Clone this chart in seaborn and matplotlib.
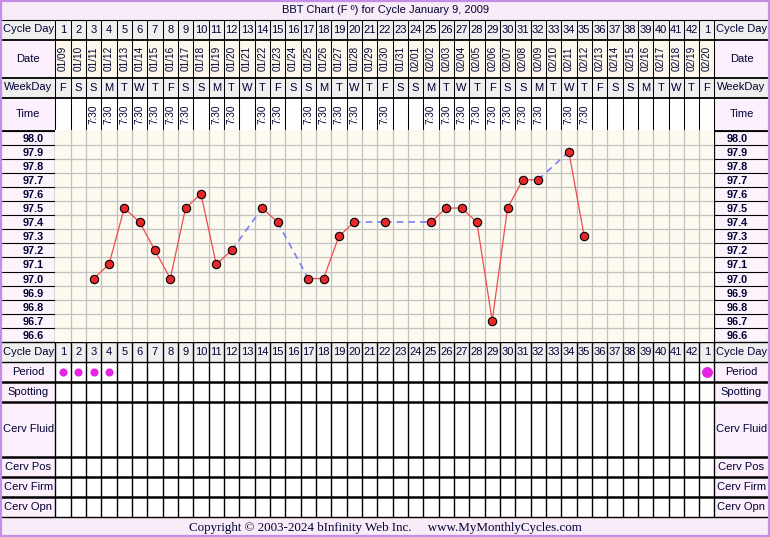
import numpy as np
import pandas as pd
import seaborn as sns
import matplotlib.pyplot as plt
from matplotlib.patches import Rectangle

# chart data
title = 'BBT Chart (F º) for Cycle January 9, 2009'
cycle_days = ['1', '2', '3', '4', '5', '6', '7', '8', '9', '10', '11', '12', '13', '14',
              '15', '16', '17', '18', '19', '20', '21', '22', '23', '24', '25', '26', '27',
              '28', '29', '30', '31', '32', '33', '34', '35', '36', '37', '38', '39', '40',
              '41', '42', '1']
dates = ['01/09', '01/10', '01/11', '01/12', '01/13', '01/14', '01/15', '01/16', '01/17',
         '01/18', '01/19', '01/20', '01/21', '01/22', '01/23', '01/24', '01/25', '01/26',
         '01/27', '01/28', '01/29', '01/30', '01/31', '02/01', '02/02', '02/03', '02/04',
         '02/05', '02/06', '02/07', '02/08', '02/09', '02/10', '02/11', '02/12', '02/13',
         '02/14', '02/15', '02/16', '02/17', '02/18', '02/19', '02/20']
weekdays = list('FSSMTWTFSSMTWTFSSMTWTFSSMTWTFSSMTWTFSSMTWTF')
time_days = [3, 4, 5, 6, 7, 8, 9, 11, 12, 14, 15, 17, 18, 19, 20, 22, 25, 26, 27, 28,
             29, 30, 31, 32, 34, 35]
read_days = [3, 4, 5, 6, 7, 8, 9, 10, 11, 12, 14, 15, 17, 18, 19, 20, 22, 25, 26, 27, 28,
             29, 30, 31, 32, 34, 35]
read_temps = [97.0, 97.1, 97.5, 97.4, 97.2, 97.0, 97.5, 97.6, 97.1, 97.2, 97.5, 97.4,
              97.0, 97.0, 97.3, 97.4, 97.4, 97.4, 97.5, 97.5, 97.4, 96.7, 97.5, 97.7,
              97.7, 97.9, 97.3]
temp_ticks = [98.0, 97.9, 97.8, 97.7, 97.6, 97.5, 97.4, 97.3, 97.2, 97.1, 97.0, 96.9,
              96.8, 96.7, 96.6]
period_days = [1, 2, 3, 4]
next_period_days = [43]
lower_rows = ['Period', 'Spotting', 'Cerv Fluid', 'Cerv Pos', 'Cerv Firm', 'Cerv Opn']
footer = 'Copyright © 2003-2024 bInfinity Web Inc.     www.MyMonthlyCycles.com'

sns.set_theme(style='white')
plt.rcParams['font.family'] = ['Liberation Sans', 'DejaVu Sans']

W, H = 770, 537
TXT = '#000033'
GRAY = '#efefef'
PINK = '#fcf0fc'
CREAM = '#fcf8ec'
GRIDBG = '#fdfaf0'
BORDER = '#c48ee6'

fig = plt.figure(figsize=(7.7, 5.37), dpi=100)
bg = fig.add_axes([0, 0, 1, 1])
bg.set_xlim(0, W)
bg.set_ylim(H, 0)
bg.axis('off')

X0, CW, NCOL = 55.3, 15.33, 43
X1 = X0 + NCOL * CW
XL, XR = 1.5, 768.5
T0, T1 = 130.5, 342.0
RH = (T1 - T0) / len(temp_ticks)


def col_x(i):
    return X0 + (i - 0.5) * CW


def cell(x, y, w, h, fc):
    bg.add_patch(Rectangle((x, y), w, h, facecolor=fc, edgecolor='none', zorder=0))


# title and footer bands
cell(0, 0, W, 19.5, '#f8ecf8')
cell(0, 517, W, 20, '#f8ecf8')
bg.text(W / 2, 10, title, ha='center', va='center', fontsize=8, color=TXT)
bg.text(W / 2 + 0.5, 527.5, footer, ha='center', va='center', fontsize=9.35, color=TXT,
        family=['Liberation Serif', 'DejaVu Serif'])

# header rows: (label, top, bottom, label bg, cell bg)
header = [('Cycle Day', 19.5, 39.5, GRAY, GRAY),
          ('Date', 39.5, 77.5, PINK, CREAM),
          ('WeekDay', 77.5, 97.5, GRAY, GRAY),
          ('Time', 97.5, 130.5, PINK, 'white')]
lower = [('Cycle Day', 342, 362, GRAY, GRAY)]
tops = [362, 382, 402, 457, 477, 497]
bots = [382, 402, 457, 477, 497, 517]
for name, t, b in zip(lower_rows, tops, bots):
    lower.append((name, t, b, PINK, 'white'))

for name, t, b, lbg, cbg in header + lower:
    cell(XL, t, X0 - XL, b - t, lbg)
    cell(X1, t, XR - X1, b - t, lbg)
    cell(X0, t, X1 - X0, b - t, cbg)
    bg.text((XL + X0) / 2, (t + b) / 2, name, ha='center', va='center', fontsize=8, color=TXT)
    bg.text((X1 + XR) / 2, (t + b) / 2, name, ha='center', va='center', fontsize=8, color=TXT)

for i in range(1, NCOL + 1):
    x = col_x(i)
    bg.text(x, 29.8, cycle_days[i - 1], ha='center', va='center', fontsize=8, color=TXT)
    bg.text(x, 352.3, cycle_days[i - 1], ha='center', va='center', fontsize=8, color=TXT)
    bg.text(x, 58.5, dates[i - 1], ha='center', va='center', rotation=90, fontsize=7.2,
            color=TXT)
    bg.text(x, 87.8, weekdays[i - 1], ha='center', va='center', fontsize=8, color=TXT)
for d in time_days:
    bg.text(col_x(d), 114, '7:30', ha='center', va='center', rotation=90, fontsize=7.2,
            color=TXT)

# temperature label columns
for k in range(len(temp_ticks)):
    y = T0 + k * RH
    cell(XL, y, X0 - XL, RH, '#fcf3fc')
    cell(X1, y, XR - X1, RH, '#fcf3fc')
    bg.plot([XL, X0], [y, y], color='black', lw=0.8, zorder=2)
    bg.plot([X1, XR], [y, y], color='black', lw=0.8, zorder=2)

# table lines
for i in range(NCOL + 1):
    x = X0 + i * CW
    bg.plot([x, x], [19.5, T0], color='black', lw=0.75, zorder=2)
    bg.plot([x, x], [T1, 517], color='black', lw=1.0, zorder=2)
for y, lw in [(19.5, 0.8), (39.5, 1.3), (77.5, 1.3), (97.5, 1.3), (T0, 1.3),
              (T1, 1.0), (362, 1.0), (382, 1.8), (402, 1.8), (457, 1.8), (477, 1.8),
              (497, 1.8), (517, 1.0)]:
    bg.plot([XL, XR], [y, y], color='black', lw=lw, zorder=2)
bg.plot([X0, X0], [T0, T1], color='black', lw=0.9, zorder=2)
bg.plot([X1, X1], [T0, T1], color='black', lw=0.9, zorder=2)
bg.add_patch(Rectangle((0.8, 0.8), W - 1.6, H - 1.6, facecolor='none', edgecolor=BORDER,
                       lw=1.6, zorder=5))

# temperature plot
ax = fig.add_axes([X0 / W, 1 - T1 / H, (X1 - X0) / W, (T1 - T0) / H])
ax.set_facecolor(GRIDBG)

df = pd.DataFrame({'day': read_days, 'temp': read_temps})
df['run'] = (df['day'].diff() != 1).cumsum()
gap_idx = df.index[df['day'].diff() > 1]
gaps = pd.concat([df.loc[[i - 1, i]].assign(seg=n) for n, i in enumerate(gap_idx)])

sns.lineplot(data=gaps, x='day', y='temp', units='seg', estimator=None, sort=False,
             color='#7b7bff', lw=1.2, linestyle=(0, (4, 3)), ax=ax, zorder=3)
sns.lineplot(data=df, x='day', y='temp', units='run', estimator=None, sort=False,
             color='#f24a4a', lw=0.9, ax=ax, zorder=4)
sns.scatterplot(data=df, x='day', y='temp', color='#e82828', edgecolor='black',
                linewidth=0.8, s=36, ax=ax, zorder=5)

ax.set_xlim(0.5, NCOL + 0.5)
ax.set_ylim(temp_ticks[-1] - 0.05, temp_ticks[0] + 0.05)
ax.set_xticks(np.arange(1.5, NCOL, 1.0), minor=True)
ax.set_yticks(np.array(temp_ticks[:-1]) - 0.05, minor=True)
ax.set_xticks([])
ax.set_yticks(temp_ticks)
ax.set_yticklabels([f'{t:.1f}' for t in temp_ticks], fontweight='bold', fontsize=7.8,
                   color=TXT)
ax.tick_params(axis='y', which='both', left=False, right=False, labelleft=True,
               labelright=True, length=0, pad=8.5)
ax.tick_params(axis='x', which='both', bottom=False, length=0)
ax.grid(True, which='minor', color='#c2c2c2', lw=0.9)
ax.grid(False, which='major')
ax.set_xlabel('')
ax.set_ylabel('')
for s in ax.spines.values():
    s.set_visible(False)

# period row
pax = fig.add_axes([X0 / W, 1 - 382 / H, (X1 - X0) / W, 20 / H])
pax.patch.set_alpha(0)
sns.scatterplot(x=period_days, y=[0.5] * len(period_days), color='#e524e5', s=34,
                linewidth=0, ax=pax)
sns.scatterplot(x=next_period_days, y=[0.5] * len(next_period_days), color='#e524e5',
                s=62, linewidth=0, ax=pax)
pax.set_xlim(0.5, NCOL + 0.5)
pax.set_ylim(0, 1)
pax.axis('off')

fig.savefig('out.png', dpi=100)
plt.close()
